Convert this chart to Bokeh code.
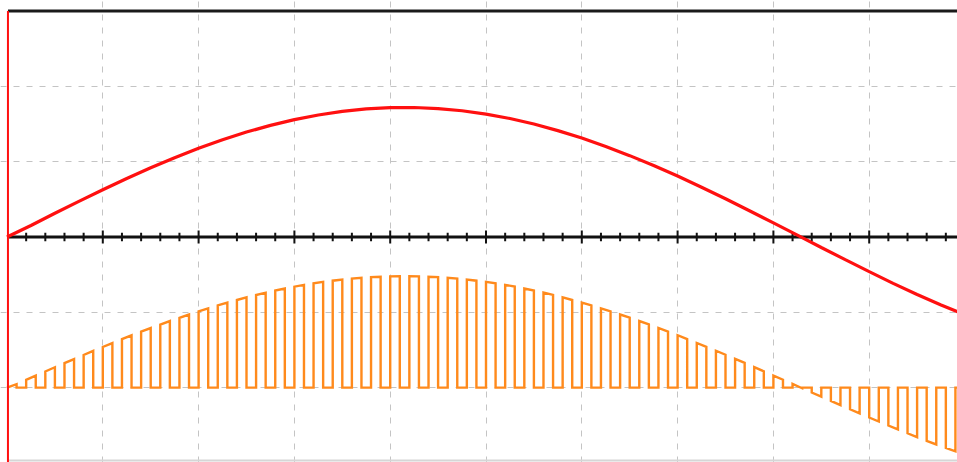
import numpy as np
from bokeh.plotting import figure
from bokeh.models import Range1d, Grid, FixedTicker
from bokeh.embed import file_html
from bokeh.resources import INLINE

# ---- data (screen divisions) ----
# Channel 1 (red): sine trace, sampled every 0.25 division
red_x = [i * 0.25 for i in range(41)]
red_y = [0.00, 0.153, 0.315, 0.473, 0.628, 0.777, 0.919, 1.053, 1.177, 1.290,
         1.393, 1.482, 1.558, 1.620, 1.668, 1.700, 1.717, 1.719, 1.705, 1.676,
         1.632, 1.573, 1.500, 1.412, 1.313, 1.202, 1.080, 0.948, 0.809, 0.661,
         0.508, 0.349, 0.187, 0.024, -0.140, -0.301, -0.460, -0.615, -0.763,
         -0.903, -1.034]

# Channel 2 (orange): chopped signal, level at each chopper edge (every 0.1 div)
chop_x = [j * 0.1 for j in range(100)]
chop_level = [0.00, 0.047, 0.103, 0.159, 0.215, 0.271, 0.326, 0.380, 0.434, 0.488,
              0.540, 0.592, 0.644, 0.694, 0.743, 0.791, 0.838, 0.884, 0.928, 0.971,
              1.013, 1.053, 1.092, 1.129, 1.164, 1.198, 1.230, 1.261, 1.289, 1.316,
              1.341, 1.364, 1.385, 1.404, 1.420, 1.435, 1.448, 1.458, 1.467, 1.473,
              1.477, 1.480, 1.480, 1.478, 1.473, 1.467, 1.459, 1.448, 1.435, 1.420,
              1.404, 1.385, 1.364, 1.342, 1.316, 1.290, 1.262, 1.231, 1.199, 1.164,
              1.130, 1.092, 1.053, 1.014, 0.971, 0.930, 0.884, 0.839, 0.792, 0.744,
              0.696, 0.645, 0.594, 0.542, 0.490, 0.437, 0.382, 0.329, 0.273, 0.217,
              0.161, 0.105, 0.049, -0.008, -0.064, -0.120, -0.176, -0.232, -0.287, -0.342,
              -0.396, -0.450, -0.503, -0.555, -0.606, -0.657, -0.706, -0.754, -0.801, -0.846]
chop_base = -2.0

grid_x = [1, 2, 3, 4, 5, 6, 7, 8, 9, 10]
grid_y = [-2, -1, 1, 2]

# ---- build orange step path ----
ox, oy = [0.0], [chop_base]
for k in range(len(chop_x) // 2):
    x0, x1 = chop_x[2 * k], chop_x[2 * k + 1]
    ox += [x0, x0, x1, x1]
    oy += [chop_base, chop_base + chop_level[2 * k], chop_base + chop_level[2 * k + 1], chop_base]
ox.append(10.0)
oy.append(chop_base)

PX_X = 95.8
PX_Y = 75.33
W, H = 957, 462
X_ORG, Y_ORG = 6.5, 236.5          # pixel position of (0, 0)
x_lo = -X_ORG / PX_X
x_hi = x_lo + W / PX_X
y_hi = Y_ORG / PX_Y
y_lo = y_hi - H / PX_Y

p = figure(width=W, height=H, output_backend="svg", toolbar_location=None,
           x_range=Range1d(x_lo, x_hi), y_range=Range1d(y_lo, y_hi),
           x_axis_type=None, y_axis_type=None, min_border=0,
           outline_line_color=None, background_fill_color="white",
           border_fill_color="white")

gx = Grid(dimension=0, ticker=FixedTicker(ticks=grid_x), grid_line_color="#c4c4c4",
          grid_line_width=1, grid_line_dash="6 7")
gy = Grid(dimension=1, ticker=FixedTicker(ticks=grid_y), grid_line_color="#c4c4c4",
          grid_line_width=1, grid_line_dash="6 7")
p.add_layout(gx)
p.add_layout(gy)

left = 0.01
# bottom edge
p.segment(x0=[left], y0=[-2.968], x1=[x_hi + 1], y1=[-2.968],
          line_color="#d6d6d6", line_width=2)

# orange channel
p.line(ox, oy, line_color="#ff8a1c", line_width=2.4, line_join="miter")

# centre axis with ticks
p.segment(x0=[left], y0=[0], x1=[x_hi + 1], y1=[0], line_color="#111111", line_width=3)
minor = [t for t in np.round(np.arange(0.2, 10.01, 0.2), 3) if abs(t - round(t)) > 1e-6]
major = [float(t) for t in grid_x]
p.segment(x0=minor, y0=[-0.055] * len(minor), x1=minor, y1=[0.055] * len(minor),
          line_color="#111111", line_width=2)
p.segment(x0=major, y0=[-0.085] * len(major), x1=major, y1=[0.085] * len(major),
          line_color="#111111", line_width=2)

# red channel
p.line(red_x, red_y, line_color="#ff1010", line_width=3.2)

# top border and left red edge
p.segment(x0=[left], y0=[3.0], x1=[x_hi + 1], y1=[3.0], line_color="#1a1a1a", line_width=3)
p.segment(x0=[left], y0=[-3.2], x1=[left], y1=[3.0],
          line_color="#ff1010", line_width=2)

open("out.html", "w").write(file_html(p, INLINE))
